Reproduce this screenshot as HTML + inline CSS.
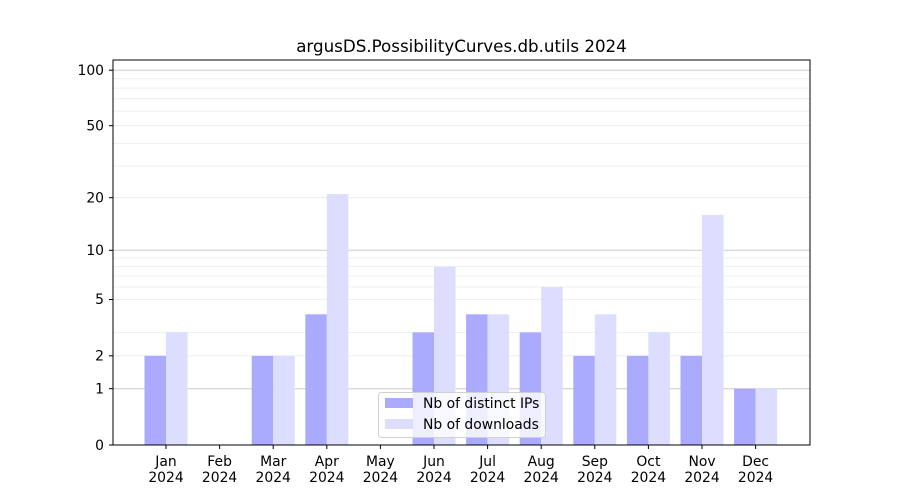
<!DOCTYPE html>
<html><head><meta charset="utf-8"><style>body{margin:0;background:#fff}svg{display:block;font-family:"DejaVu Sans","Liberation Sans",sans-serif}</style></head><body>
<svg width="900" height="500" xmlns="http://www.w3.org/2000/svg">
<rect width="900" height="500" fill="#fff"/>
<text x="461.5" y="52" font-size="16.7" text-anchor="middle">argusDS.PossibilityCurves.db.utils 2024</text>
<g stroke="#ebebeb" stroke-width="0.8">
<line x1="113" x2="810" y1="355.8" y2="355.8"/><line x1="113" x2="810" y1="332.4" y2="332.4"/><line x1="113" x2="810" y1="299.5" y2="299.5"/><line x1="113" x2="810" y1="287" y2="287"/><line x1="113" x2="810" y1="276.1" y2="276.1"/><line x1="113" x2="810" y1="266.6" y2="266.6"/><line x1="113" x2="810" y1="258" y2="258"/>
<line x1="113" x2="810" y1="197.7" y2="197.7"/><line x1="113" x2="810" y1="166.1" y2="166.1"/><line x1="113" x2="810" y1="143.4" y2="143.4"/><line x1="113" x2="810" y1="125.7" y2="125.7"/><line x1="113" x2="810" y1="111.1" y2="111.1"/><line x1="113" x2="810" y1="98.8" y2="98.8"/><line x1="113" x2="810" y1="88.1" y2="88.1"/><line x1="113" x2="810" y1="78.7" y2="78.7"/>
</g>
<g stroke="#cccccc" stroke-width="1">
<line x1="113" x2="810" y1="388.7" y2="388.7"/><line x1="113" x2="810" y1="250.3" y2="250.3"/><line x1="113" x2="810" y1="70.2" y2="70.2"/>
</g>
<g fill="#aaaaff">
<rect x="144.5" y="355.8" width="21.5" height="89.2"/>
<rect x="251.7" y="355.8" width="21.5" height="89.2"/>
<rect x="305.3" y="314.3" width="21.5" height="130.7"/>
<rect x="412.5" y="332.4" width="21.5" height="112.6"/>
<rect x="466.1" y="314.3" width="21.5" height="130.7"/>
<rect x="519.7" y="332.4" width="21.5" height="112.6"/>
<rect x="573.3" y="355.8" width="21.5" height="89.2"/>
<rect x="626.9" y="355.8" width="21.5" height="89.2"/>
<rect x="680.5" y="355.8" width="21.5" height="89.2"/>
<rect x="734.1" y="388.7" width="21.5" height="56.3"/>
</g>
<g fill="#ddddff">
<rect x="166" y="332.4" width="21.5" height="112.6"/>
<rect x="273.2" y="355.8" width="21.5" height="89.2"/>
<rect x="326.8" y="194" width="21.5" height="251"/>
<rect x="434" y="266.6" width="21.5" height="178.4"/>
<rect x="487.6" y="314.3" width="21.5" height="130.7"/>
<rect x="541.2" y="287" width="21.5" height="158"/>
<rect x="594.8" y="314.3" width="21.5" height="130.7"/>
<rect x="648.4" y="332.4" width="21.5" height="112.6"/>
<rect x="702" y="214.9" width="21.5" height="230.1"/>
<rect x="755.6" y="388.7" width="21.5" height="56.3"/>
</g>
<rect x="113" y="60" width="697" height="385" fill="none" stroke="#000" stroke-width="1"/>
<g stroke="#000" stroke-width="1">
<line x1="109" x2="113" y1="445" y2="445"/><line x1="109" x2="113" y1="388.7" y2="388.7"/><line x1="109" x2="113" y1="355.8" y2="355.8"/><line x1="109" x2="113" y1="299.5" y2="299.5"/><line x1="109" x2="113" y1="250.3" y2="250.3"/><line x1="109" x2="113" y1="197.7" y2="197.7"/><line x1="109" x2="113" y1="125.7" y2="125.7"/><line x1="109" x2="113" y1="70.2" y2="70.2"/>
</g>
<g font-size="13.9" text-anchor="end">
<text x="104" y="450">0</text><text x="104" y="393.5">1</text><text x="104" y="360.5">2</text><text x="104" y="304">5</text><text x="104" y="255">10</text><text x="104" y="202.5">20</text><text x="104" y="130.5">50</text><text x="104" y="75">100</text>
</g>
<g stroke="#000"><line x1="166" x2="166" y1="445" y2="449"/><line x1="219.6" x2="219.6" y1="445" y2="449"/><line x1="273.2" x2="273.2" y1="445" y2="449"/><line x1="326.8" x2="326.8" y1="445" y2="449"/><line x1="380.4" x2="380.4" y1="445" y2="449"/><line x1="434" x2="434" y1="445" y2="449"/><line x1="487.6" x2="487.6" y1="445" y2="449"/><line x1="541.2" x2="541.2" y1="445" y2="449"/><line x1="594.8" x2="594.8" y1="445" y2="449"/><line x1="648.4" x2="648.4" y1="445" y2="449"/><line x1="702" x2="702" y1="445" y2="449"/><line x1="755.6" x2="755.6" y1="445" y2="449"/></g>
<g font-size="13.9" text-anchor="middle">
<text x="166" y="466">Jan</text><text x="166" y="482">2024</text>
<text x="219.6" y="466">Feb</text><text x="219.6" y="482">2024</text>
<text x="273.2" y="466">Mar</text><text x="273.2" y="482">2024</text>
<text x="326.8" y="466">Apr</text><text x="326.8" y="482">2024</text>
<text x="380.4" y="466">May</text><text x="380.4" y="482">2024</text>
<text x="434" y="466">Jun</text><text x="434" y="482">2024</text>
<text x="487.6" y="466">Jul</text><text x="487.6" y="482">2024</text>
<text x="541.2" y="466">Aug</text><text x="541.2" y="482">2024</text>
<text x="594.8" y="466">Sep</text><text x="594.8" y="482">2024</text>
<text x="648.4" y="466">Oct</text><text x="648.4" y="482">2024</text>
<text x="702" y="466">Nov</text><text x="702" y="482">2024</text>
<text x="755.6" y="466">Dec</text><text x="755.6" y="482">2024</text>
</g>
<rect x="378.5" y="392.5" width="167" height="45" rx="3" fill="#fff" fill-opacity="0.8" stroke="#d0d0d0"/>
<rect x="385" y="398" width="28" height="10" fill="#aaaaff"/>
<rect x="385" y="419" width="28" height="10" fill="#ddddff"/>
<g font-size="13.9"><text x="423" y="408">Nb of distinct IPs</text><text x="423" y="429">Nb of downloads</text></g>
</svg>
</body></html>
